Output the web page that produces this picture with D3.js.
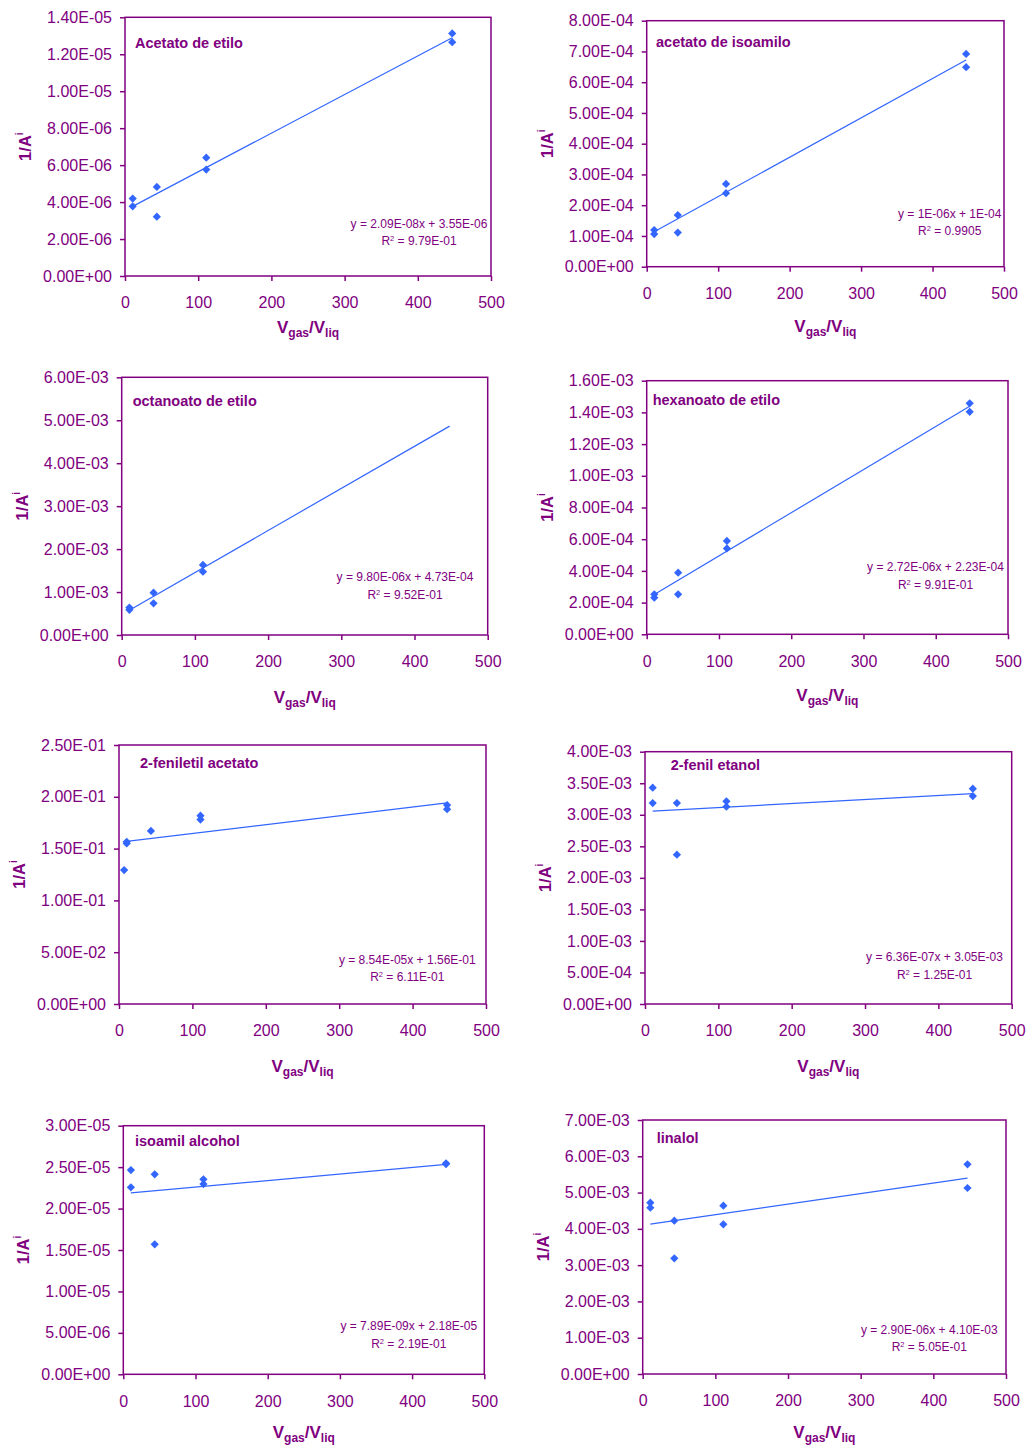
<!DOCTYPE html>
<html>
<head>
<meta charset="utf-8">
<script src="https://cdn.jsdelivr.net/npm/d3@7"></script>
<style>
  body { margin: 0; background: #fff; }
  svg { display: block; }
  text { font-family: "Liberation Sans", Arial, sans-serif; fill: #800080; }
</style>
</head>
<body>
<svg id="chart" width="1026" height="1446"></svg>
<script>
// ---- data -----------------------------------------------------------------
const compounds = ["Acetato de etilo", "acetato de isoamilo", "octanoato de etilo", "hexanoato de etilo",
                   "2-feniletil acetato", "2-fenil etanol", "isoamil alcohol", "linalol"];
const xTicks = [0, 100, 200, 300, 400, 500];
const yMax  = [1.4e-5, 8e-4, 6e-3, 1.6e-3, 0.25, 4e-3, 3e-5, 7e-3];
const yStep = [2e-6, 1e-4, 1e-3, 2e-4, 0.05, 5e-4, 5e-6, 1e-3];

// Vgas/Vliq of each measurement
const vRatio = [
  [10.5, 10.5, 43.5, 43.5, 111, 111, 447, 447],
  [10.5, 10.5, 43.5, 43.5, 111, 111, 447, 447],
  [10.5, 10.5, 43.5, 43.5, 111, 111],
  [10.5, 10.5, 43.5, 43.5, 111, 111, 447, 447],
  [7, 10.5, 10.5, 43.5, 111, 111, 447, 447],
  [10.5, 10.5, 43.5, 43.5, 111, 111, 447, 447],
  [10.5, 10.5, 43.5, 43.5, 111, 111, 447, 447],
  [10.5, 10.5, 43.5, 43.5, 111, 111, 447, 447]
];
// 1/A^i of each measurement
const invArea = [
  [4.19e-6, 3.77e-6, 4.82e-6, 3.21e-6, 6.40e-6, 5.76e-6, 1.313e-5, 1.265e-5],
  [1.19e-4, 1.06e-4, 1.68e-4, 1.11e-4, 2.69e-4, 2.39e-4, 6.92e-4, 6.49e-4],
  [6.40e-4, 5.85e-4, 9.86e-4, 7.37e-4, 1.63e-3, 1.475e-3],
  [2.52e-4, 2.31e-4, 3.89e-4, 2.52e-4, 5.89e-4, 5.42e-4, 1.457e-3, 1.404e-3],
  [0.1293, 0.1565, 0.1550, 0.1670, 0.1818, 0.1780, 0.1920, 0.1880],
  [3.43e-3, 3.186e-3, 3.186e-3, 2.367e-3, 3.213e-3, 3.128e-3, 3.414e-3, 3.297e-3],
  [2.465e-5, 2.256e-5, 2.413e-5, 1.568e-5, 2.353e-5, 2.296e-5, 2.546e-5, 2.537e-5],
  [4.72e-3, 4.584e-3, 4.226e-3, 3.188e-3, 4.639e-3, 4.125e-3, 5.778e-3, 5.126e-3]
];

// linear trend lines
const slope     = [2.09e-8, 1.28e-6, 9.80e-6, 2.72e-6, 8.54e-5, 6.36e-7, 7.89e-9, 2.90e-6];
const intercept = [3.55e-6, 1.0e-4, 4.73e-4, 2.23e-4, 1.56e-1, 3.05e-3, 2.18e-5, 4.10e-3];
const fitFrom   = [10.5, 10.5, 10.5, 10.5, 10.5, 10.5, 10.5, 10.5];
const fitTo     = [447, 447, 448, 447, 447, 447, 447, 447];
const eqLabels  = ["y = 2.09E-08x + 3.55E-06", "y = 1E-06x + 1E-04", "y = 9.80E-06x + 4.73E-04",
                   "y = 2.72E-06x + 2.23E-04", "y = 8.54E-05x + 1.56E-01", "y = 6.36E-07x + 3.05E-03",
                   "y = 7.89E-09x + 2.18E-05", "y = 2.90E-06x + 4.10E-03"];
const r2Labels  = ["9.79E-01", "0.9905", "9.52E-01", "9.91E-01", "6.11E-01", "1.25E-01", "2.19E-01", "5.05E-01"];

// ---- layout ---------------------------------------------------------------
const frames = [
  { l: 125,   t: 17.3,   r: 491,    b: 276 },
  { l: 646.7, t: 20.7,   r: 1004,   b: 266.7 },
  { l: 121.7, t: 377.3,  r: 487.7,  b: 635 },
  { l: 646.7, t: 380.7,  r: 1008,   b: 634.3 },
  { l: 119,   t: 745,    r: 486,    b: 1004 },
  { l: 645,   t: 751.7,  r: 1011.7, b: 1004 },
  { l: 123.3, t: 1125.7, r: 484.3,  b: 1374.3 },
  { l: 642.7, t: 1120,   r: 1006,   b: 1374 }
];
const titlePos = [[10, 25.4], [9.3, 21], [11, 23.4], [6, 19.3], [21, 18.3], [25.7, 13.3], [11.7, 15.3], [14, 17.7]];
const eqPos    = [[-72, 206], [-54.3, 192.6], [-82.7, 199.4], [-72.5, 186], [-78.7, 214.3], [-77.2, 205], [-75.5, 200.3], [-76.7, 209.3]];
const xTitleDy = [57, 65, 68, 67, 67.7, 67.7, 64, 64];

const PURPLE = "#800080";
const BLUE = "#3366FF";

// Excel-style "0.00E+00" number format
function sci(v) {
  if (Math.abs(v) < 1e-15) return "0.00E+00";
  let e = Math.floor(Math.log10(Math.abs(v)) + 1e-9);
  let m = v / Math.pow(10, e);
  if (Math.round(m * 100) / 100 >= 10) { m /= 10; e++; }
  return m.toFixed(2) + "E" + (e < 0 ? "-" : "+") + String(Math.abs(e)).padStart(2, "0");
}

const svg = d3.select("#chart");
const diamond = d3.symbol(d3.symbolSquare, 34);

compounds.forEach((name, i) => {
  const f = frames[i];
  const g = svg.append("g");
  const x = d3.scaleLinear().domain([0, 500]).range([f.l, f.r]);
  const y = d3.scaleLinear().domain([0, yMax[i]]).range([f.b, f.t]);
  const nTicks = Math.round(yMax[i] / yStep[i]);
  const yTicks = d3.range(nTicks + 1).map(k => k * yStep[i]);

  // y axis
  const ya = g.append("g").attr("transform", `translate(${f.l},0)`)
    .call(d3.axisLeft(y).tickValues(yTicks).tickFormat(sci).tickSize(5).tickPadding(8));
  // x axis
  const xa = g.append("g").attr("transform", `translate(0,${f.b})`)
    .call(d3.axisBottom(x).tickValues(xTicks).tickFormat(d3.format("d")).tickSize(5).tickPadding(16));
  [ya, xa].forEach(a => {
    a.select(".domain").remove();
    a.selectAll("line").attr("stroke", PURPLE).attr("stroke-width", 1.5);
    a.selectAll("text").attr("fill", PURPLE).style("font-size", "16px")
      .style("font-family", '"Liberation Sans", Arial, sans-serif');
  });

  // plot frame
  g.append("rect").attr("x", f.l).attr("y", f.t).attr("width", f.r - f.l).attr("height", f.b - f.t)
    .attr("fill", "none").attr("stroke", PURPLE).attr("stroke-width", 1.5);

  // trend line
  g.append("line")
    .attr("x1", x(fitFrom[i])).attr("y1", y(slope[i] * fitFrom[i] + intercept[i]))
    .attr("x2", x(fitTo[i])).attr("y2", y(slope[i] * fitTo[i] + intercept[i]))
    .attr("stroke", BLUE).attr("stroke-width", 1.2);

  // measurements
  const pts = vRatio[i].map((v, k) => [v, invArea[i][k]]);
  g.selectAll("path.pt").data(pts).enter().append("path").attr("class", "pt")
    .attr("d", diamond)
    .attr("transform", d => `translate(${x(d[0])},${y(d[1])}) rotate(45)`)
    .attr("fill", BLUE);

  // compound name
  g.append("text").attr("x", f.l + titlePos[i][0]).attr("y", f.t + titlePos[i][1] + 5)
    .style("font-size", "14.5px").style("font-weight", "bold").text(name);

  // regression equation and R²
  const ex = f.r + eqPos[i][0], ey = f.t + eqPos[i][1] + 4.3;
  g.append("text").attr("x", ex).attr("y", ey).attr("text-anchor", "middle")
    .style("font-size", "12px").text(eqLabels[i]);
  const r2 = g.append("text").attr("x", ex).attr("y", ey + 17.8).attr("text-anchor", "middle")
    .style("font-size", "12px");
  r2.append("tspan").text("R");
  r2.append("tspan").attr("dy", -4).style("font-size", "7.5px").text("2");
  r2.append("tspan").attr("dy", 4).text(" = " + r2Labels[i]);

  // y axis title 1/A^i
  const cy = (f.t + f.b) / 2;
  const yt = g.append("text").attr("transform", `translate(${f.l - 94},${cy}) rotate(-90)`)
    .attr("text-anchor", "middle").style("font-weight", "bold").style("font-size", "16.5px");
  yt.append("tspan").text("1/A");
  yt.append("tspan").attr("dy", -8).style("font-size", "10px").text("i");

  // x axis title Vgas/Vliq
  const xt = g.append("text").attr("x", (f.l + f.r) / 2).attr("y", f.b + xTitleDy[i])
    .attr("text-anchor", "middle").style("font-weight", "bold");
  xt.append("tspan").style("font-size", "17px").text("V");
  xt.append("tspan").attr("dy", 4).style("font-size", "12px").text("gas");
  xt.append("tspan").attr("dy", -4).style("font-size", "17px").text("/V");
  xt.append("tspan").attr("dy", 4).style("font-size", "12px").text("liq");
});
</script>
</body>
</html>
